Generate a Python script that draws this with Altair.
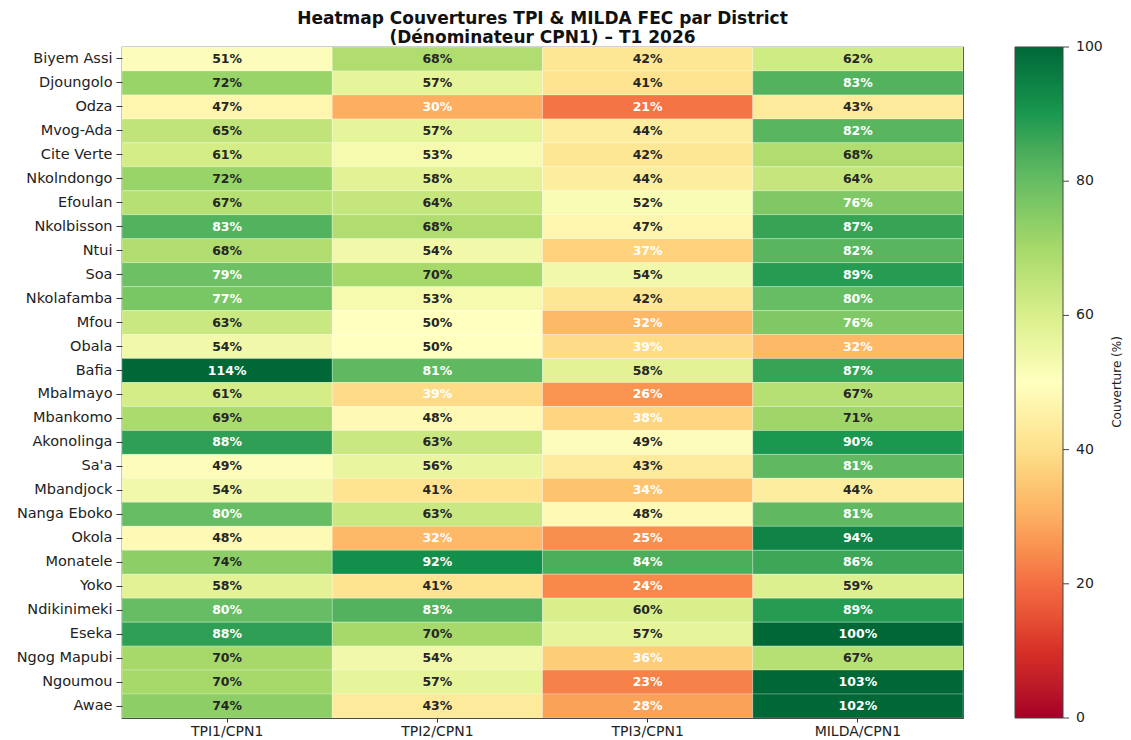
import altair as alt
import pandas as pd

districts = ["Biyem Assi", "Djoungolo", "Odza", "Mvog-Ada", "Cite Verte", "Nkolndongo",
             "Efoulan", "Nkolbisson", "Ntui", "Soa", "Nkolafamba", "Mfou", "Obala", "Bafia",
             "Mbalmayo", "Mbankomo", "Akonolinga", "Sa'a", "Mbandjock", "Nanga Eboko",
             "Okola", "Monatele", "Yoko", "Ndikinimeki", "Eseka", "Ngog Mapubi", "Ngoumou", "Awae"]
indicators = ["TPI1/CPN1", "TPI2/CPN1", "TPI3/CPN1", "MILDA/CPN1"]
tpi1 = [51, 72, 47, 65, 61, 72, 67, 83, 68, 79, 77, 63, 54, 114, 61, 69, 88, 49, 54, 80, 48, 74, 58, 80, 88, 70, 70, 74]
tpi2 = [68, 57, 30, 57, 53, 58, 64, 68, 54, 70, 53, 50, 50, 81, 39, 48, 63, 56, 41, 63, 32, 92, 41, 83, 70, 54, 57, 43]
tpi3 = [42, 41, 21, 44, 42, 44, 52, 47, 37, 54, 42, 32, 39, 58, 26, 38, 49, 43, 34, 48, 25, 84, 24, 60, 57, 36, 23, 28]
milda = [62, 83, 43, 82, 68, 64, 76, 87, 82, 89, 80, 76, 32, 87, 67, 71, 90, 81, 44, 81, 94, 86, 59, 89, 100, 67, 103, 102]
legend_ticks = [0, 20, 40, 60, 80, 100]

series = [tpi1, tpi2, tpi3, milda]
rows = []
for ind, vals in zip(indicators, series):
    for d, v in zip(districts, vals):
        rows.append({"district": d, "indicator": ind, "v": v})
df = pd.DataFrame(rows)
ticks_df = pd.DataFrame({"tv": legend_ticks})

rdylgn = ["#a50026", "#d73027", "#f46d43", "#fdae61", "#fee08b", "#ffffbf",
          "#d9ef8b", "#a6d96a", "#66bd63", "#1a9850", "#006837"]
stops = [i * 10 for i in range(11)]

FONT = "DejaVu Sans"
W, H = 841, 671
CB_X = 893
CB_T = 48

base = alt.Chart(df).encode(
    x=alt.X("indicator:N", sort=indicators, title=None,
            axis=alt.Axis(labelAngle=0, labelFontSize=14, labelFont=FONT, labelColor="#222",
                          tickSize=4, tickColor="#333", domain=False, labelPadding=2)),
    y=alt.Y("district:N", sort=districts, title=None,
            axis=alt.Axis(labelFontSize=14.5, labelFont=FONT, labelColor="#222",
                          tickSize=6, tickColor="#333", domain=False, labelPadding=4)),
)

rect = base.mark_rect(stroke="#ffffff", strokeWidth=0.5, strokeOpacity=0.5).encode(
    color=alt.Color("v:Q",
                    scale=alt.Scale(domain=stops, range=rdylgn, clamp=True),
                    legend=alt.Legend(orient="none", legendX=CB_X, legendY=0, title=None,
                                      direction="vertical", gradientLength=H,
                                      gradientThickness=CB_T, values=legend_ticks,
                                      labelExpr="''", labelFontSize=1, padding=0,
                                      gradientStrokeColor="#444", gradientStrokeWidth=1))
)

text = base.mark_text(font=FONT, fontSize=12.5, fontWeight="bold").transform_calculate(
    lbl="datum.v + '%'"
).encode(
    text="lbl:N",
    color=alt.condition("datum.v < 40 || datum.v > 75", alt.value("#ffffff"), alt.value("#262626")),
)

heat = alt.layer(rect, text)

cb_y = alt.Y("tv:Q", scale=alt.Scale(domain=[0, 100], nice=False, zero=False), axis=None)

cb_ticks = alt.Chart(ticks_df).mark_rule(color="#444", strokeWidth=1).encode(
    y=cb_y, x=alt.value(CB_X + CB_T), x2=alt.value(CB_X + CB_T + 6))

cb_labels = alt.Chart(ticks_df).mark_text(
    font=FONT, fontSize=14, color="#222", align="left", baseline="middle"
).encode(y=cb_y, x=alt.value(CB_X + CB_T + 13), text=alt.Text("tv:Q", format="d"))

cb_title = alt.Chart(pd.DataFrame({"t": ["Couverture (%)"]})).mark_text(
    font=FONT, fontSize=12, angle=270, color="#222"
).encode(text="t:N", x=alt.value(995), y=alt.value(335))

colorbar = alt.layer(cb_ticks, cb_labels)

chart = alt.layer(heat, colorbar, cb_title).resolve_scale(
    y="independent"
).properties(
    width=W, height=H,
    title=alt.TitleParams(
        text=["Heatmap Couvertures TPI & MILDA FEC par District", "(Dénominateur CPN1) – T1 2026"],
        font=FONT, fontSize=17, fontWeight="bold", lineHeight=19, anchor="middle",
        color="#111", offset=-7, frame="group"),
    padding={"left": 8, "top": 2, "right": 0, "bottom": 0},
).configure_view(stroke="#333", strokeWidth=1.2)

chart.save("out.html", embed_options={"renderer": "svg", "actions": False})
